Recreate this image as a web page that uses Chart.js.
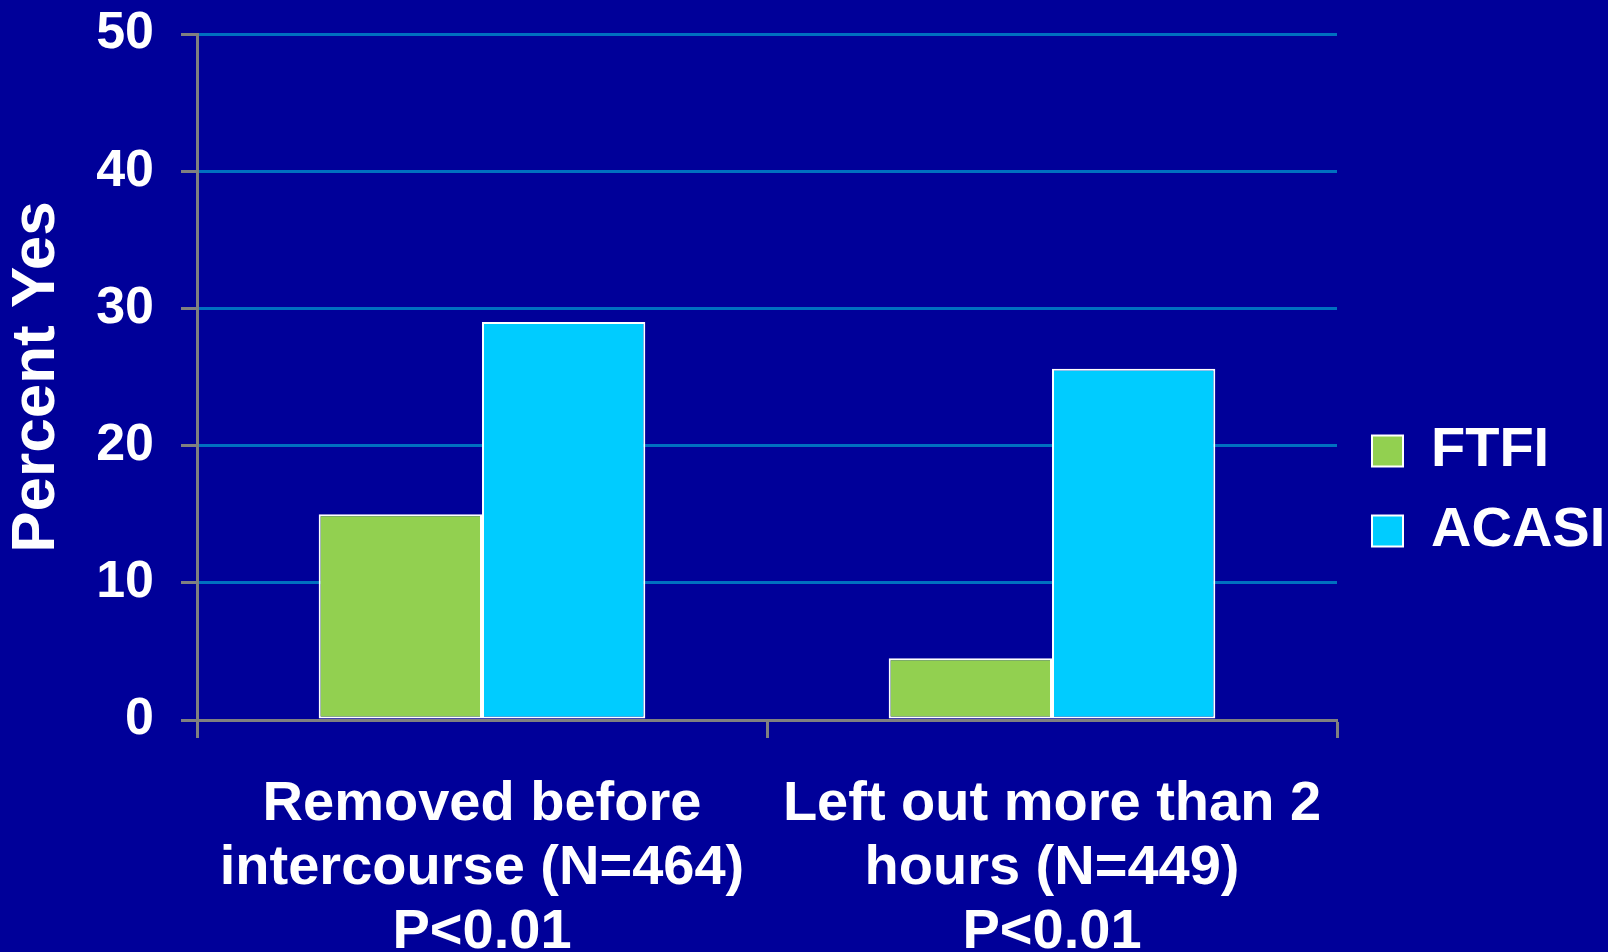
<!DOCTYPE html>
<html>
<head>
<meta charset="utf-8">
<script src="https://cdn.jsdelivr.net/npm/chart.js@4/dist/chart.umd.min.js"></script>
<style>
  html, body { margin: 0; padding: 0; background: #000099; }
  canvas { display: block; }
</style>
</head>
<body>
<canvas id="myChart" width="1608" height="952"></canvas>
<script>
var categories = [
  ["Removed before", "intercourse (N=464)", "P<0.01"],
  ["Left out more than 2", "hours (N=449)", "P<0.01"],
];
var ftfi = [15, 4.5];
var acasi = [29, 25.6];
var seriesNames = ["FTFI", "ACASI"];

var AXIS = "#808080";
var GRID = "#0070C0";

// fixed legend width and small nudge so the swatches sit where the slide had them
var legendFix = {
  id: "legendFix",
  beforeLayout: function (chart) {
    var lg = chart.legend;
    if (lg && !lg._patched) {
      var fit = lg.fit;
      lg.fit = function () {
        fit.call(this);
        this.width = 271;
      };
      lg._patched = true;
    }
  },
  afterLayout: function (chart) {
    var lg = chart.legend;
    lg.left = chart.chartArea.right + 11;
    lg.top -= 2;
    lg.bottom -= 2;
  },
};

var ctx = document.getElementById("myChart");
var myChart = new Chart(ctx, {
  type: "bar",
  data: {
    labels: categories,
    datasets: [
      {
        label: seriesNames[0],
        data: ftfi,
        backgroundColor: "#92D050",
        borderColor: "#FFFFFF",
        borderWidth: 2,
        borderSkipped: false,
      },
      {
        label: seriesNames[1],
        data: acasi,
        backgroundColor: "#00CCFF",
        borderColor: "#FFFFFF",
        borderWidth: 2,
        borderSkipped: false,
      },
    ],
  },
  plugins: [legendFix],
  options: {
    responsive: false,
    animation: false,
    layout: { padding: { top: 34, left: 0, right: 0, bottom: 0 } },
    datasets: {
      bar: { categoryPercentage: 0.573, barPercentage: 1 },
    },
    scales: {
      x: {
        grid: {
          drawOnChartArea: false,
          tickLength: 18,
          tickColor: AXIS,
          tickWidth: 3,
          offset: true,
        },
        border: { color: AXIS, width: 3 },
        ticks: {
          color: "#FFFFFF",
          padding: 35,
          maxRotation: 0,
          font: { family: "Liberation Sans", size: 56, weight: "bold", lineHeight: 1.14 },
        },
        afterFit: function (scale) {
          scale.height = 232;
        },
      },
      y: {
        min: 0,
        max: 50,
        ticks: {
          stepSize: 10,
          color: "#FFFFFF",
          padding: 27,
          font: { family: "Liberation Sans", size: 52, weight: "bold" },
        },
        grid: {
          color: function (c) {
            return c.tick && c.tick.value === 0 ? AXIS : GRID;
          },
          lineWidth: 3,
          tickLength: 16,
          tickColor: AXIS,
          tickWidth: 3,
        },
        border: { color: AXIS, width: 3 },
        title: {
          display: true,
          text: "Percent Yes",
          color: "#FFFFFF",
          padding: 0,
          font: { family: "Liberation Sans", size: 62, weight: "bold", lineHeight: 1.2 },
        },
        afterFit: function (scale) {
          scale.width = 197;
          scale.paddingTop = 0;
          scale.paddingBottom = 0;
        },
      },
    },
    plugins: {
      legend: {
        display: true,
        position: "right",
        labels: {
          color: "#FFFFFF",
          boxWidth: 31,
          boxHeight: 31,
          padding: 24,
          font: { family: "Liberation Sans", size: 56, weight: "bold" },
        },
      },
      tooltip: { enabled: false },
    },
  },
});
</script>
</body>
</html>
